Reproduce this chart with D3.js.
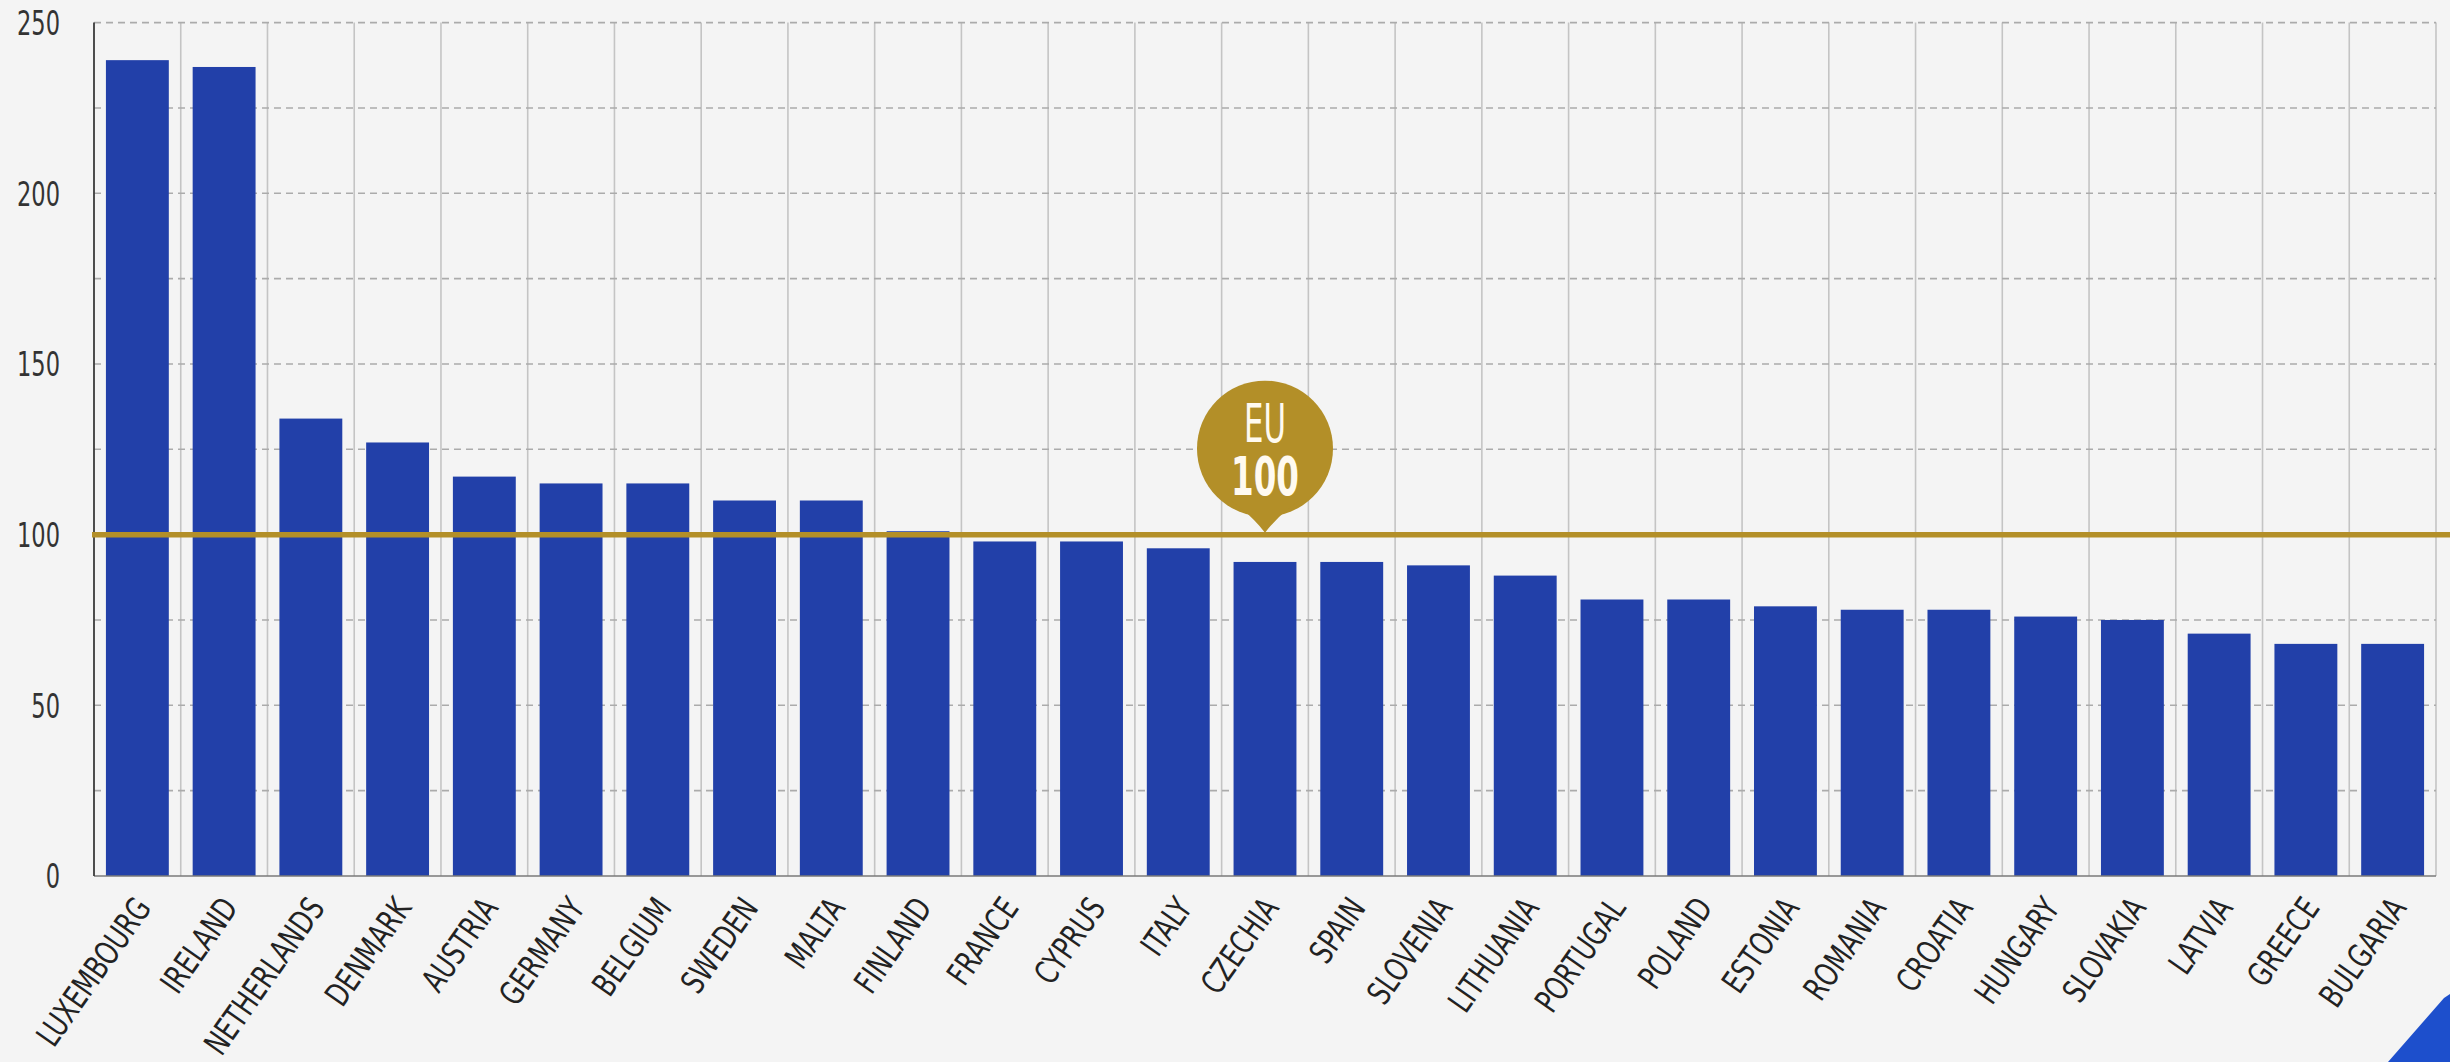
<!DOCTYPE html>
<html>
<head>
<meta charset="utf-8">
<script src="https://cdn.jsdelivr.net/npm/d3@7"></script>
<style>
  html, body { margin: 0; padding: 0; background: #f4f4f4; }
  svg { display: block; }
  text { font-family: 'DejaVu Sans Condensed', 'Liberation Sans Narrow', 'DejaVu Sans', sans-serif; }
</style>
</head>
<body>
<svg id="chart" width="2450" height="1062"></svg>
<script>
// ---- data ----
const countries = ["LUXEMBOURG","IRELAND","NETHERLANDS","DENMARK","AUSTRIA","GERMANY","BELGIUM","SWEDEN","MALTA","FINLAND","FRANCE","CYPRUS","ITALY","CZECHIA","SPAIN","SLOVENIA","LITHUANIA","PORTUGAL","POLAND","ESTONIA","ROMANIA","CROATIA","HUNGARY","SLOVAKIA","LATVIA","GREECE","BULGARIA"];
const values = [239, 237, 134, 127, 117, 115, 115, 110, 110, 101, 98, 98, 96, 92, 92, 91, 88, 81, 81, 79, 78, 78, 76, 75, 71, 68, 68];
const yTickLabels = [0, 50, 100, 150, 200, 250];
const gridValues = [25, 50, 75, 100, 125, 150, 175, 200, 225, 250];
const euValue = 100;
const euLabel = "EU";
const euIndex = "CZECHIA";

// ---- layout ----
const svg = d3.select("#chart");
const W = 2450, H = 1062;
const mLeft = 94, mRight = 2436, mTop = 22.6, mBottom = 876;

svg.append("rect").attr("width", W).attr("height", H).attr("fill", "#f4f4f4");

const x = d3.scaleBand().domain(countries).range([mLeft, mRight]).paddingInner(0.275).paddingOuter(0.1375);
const y = d3.scaleLinear().domain([0, 250]).range([mBottom, mTop]);
const step = x.step();

// helper: horizontal compression factor so that a sample text gets a target width
function squeeze(sampleText, size, weight, target) {
  const t = svg.append("text").attr("font-size", size).attr("font-weight", weight).text(sampleText);
  const w = t.node().getComputedTextLength();
  t.remove();
  return Math.min(1, target / w);
}

// vertical gridlines at band boundaries
const bounds = countries.map((c, i) => mLeft + step * (i + 1));
svg.append("g").selectAll("line").data(bounds).join("line")
  .attr("x1", d => d).attr("x2", d => d)
  .attr("y1", y(250)).attr("y2", y(0))
  .attr("stroke", "#c4c4c4").attr("stroke-width", 1.6);

// horizontal dashed gridlines
svg.append("g").selectAll("line").data(gridValues).join("line")
  .attr("x1", mLeft).attr("x2", mRight)
  .attr("y1", d => y(d)).attr("y2", d => y(d))
  .attr("stroke", "#ababab").attr("stroke-width", 1.6)
  .attr("stroke-dasharray", "7,5");

// bars
svg.append("g").selectAll("rect").data(values).join("rect")
  .attr("x", (d, i) => x(countries[i]))
  .attr("width", x.bandwidth())
  .attr("y", d => y(d))
  .attr("height", d => y(0) - y(d))
  .attr("fill", "#2240a9");

// axes lines
svg.append("line").attr("x1", mLeft).attr("x2", mRight).attr("y1", y(0)).attr("y2", y(0))
  .attr("stroke", "#7a7a7a").attr("stroke-width", 1.6);
svg.append("line").attr("x1", mLeft).attr("x2", mLeft).attr("y1", y(250)).attr("y2", y(0))
  .attr("stroke", "#3a3a3a").attr("stroke-width", 1.8);

// y axis labels
const fy = squeeze("250", 33, "normal", 43);
const yAxis = d3.axisLeft(y).tickValues(yTickLabels).tickSize(0).tickPadding(0).tickFormat(d3.format("d"));
const gy = svg.append("g").attr("transform", `translate(60,0)`).call(yAxis);
gy.select(".domain").remove();
gy.selectAll("text").attr("font-size", 33).attr("fill", "#333")
  .attr("x", 0).attr("dy", "0.36em")
  .attr("text-anchor", "end")
  .attr("transform", `scale(${fy},1)`);

// x axis labels
const fx = squeeze("LUXEMBOURG", 33, "normal", 172);
const xAxis = d3.axisBottom(x).tickSize(0).tickPadding(0);
const gx = svg.append("g").attr("transform", `translate(0,${mBottom})`).call(xAxis);
gx.select(".domain").remove();
gx.selectAll("text")
  .attr("font-size", 33).attr("fill", "#222")
  .attr("text-anchor", "end")
  .attr("dy", 0).attr("y", 0).attr("x", 0)
  .attr("transform", `translate(15,32) rotate(-55) scale(${fx},1)`);

// EU reference line
const gold = "#b38f28";
svg.append("line").attr("x1", mLeft - 2).attr("x2", mRight + 14)
  .attr("y1", y(euValue)).attr("y2", y(euValue))
  .attr("stroke", gold).attr("stroke-width", 5.5);

// EU marker
const cx = x(euIndex) + x.bandwidth() / 2;
const tipY = y(euValue) - 2;
const r = 68;
const cy = tipY - 84;
const mk = svg.append("g");
mk.append("circle").attr("cx", cx).attr("cy", cy).attr("r", r).attr("fill", gold);
mk.append("path")
  .attr("d", `M${cx - 34},${cy + 52} Q${cx - 14},${cy + 66} ${cx},${tipY} Q${cx + 14},${cy + 66} ${cx + 34},${cy + 52} Z`)
  .attr("fill", gold);
const fe = squeeze(euLabel, 54, "normal", 42);
const fh = squeeze(String(euValue), 54, "bold", 68);
mk.append("text").attr("transform", `translate(${cx},${cy - 7}) scale(${fe},1)`).attr("text-anchor", "middle")
  .attr("font-size", 54).attr("fill", "#fffaf0").text(euLabel);
mk.append("text").attr("transform", `translate(${cx},${cy + 46}) scale(${fh},1)`).attr("text-anchor", "middle")
  .attr("font-size", 54).attr("font-weight", "bold").attr("fill", "#fffaf0").text(euValue);

// corner decoration
svg.append("path")
  .attr("d", `M${W},${H - 68} L${W - 6},${H - 64} L${W - 62},${H} L${W},${H} Z`)
  .attr("fill", "#1d4fcc");
</script>
</body>
</html>
